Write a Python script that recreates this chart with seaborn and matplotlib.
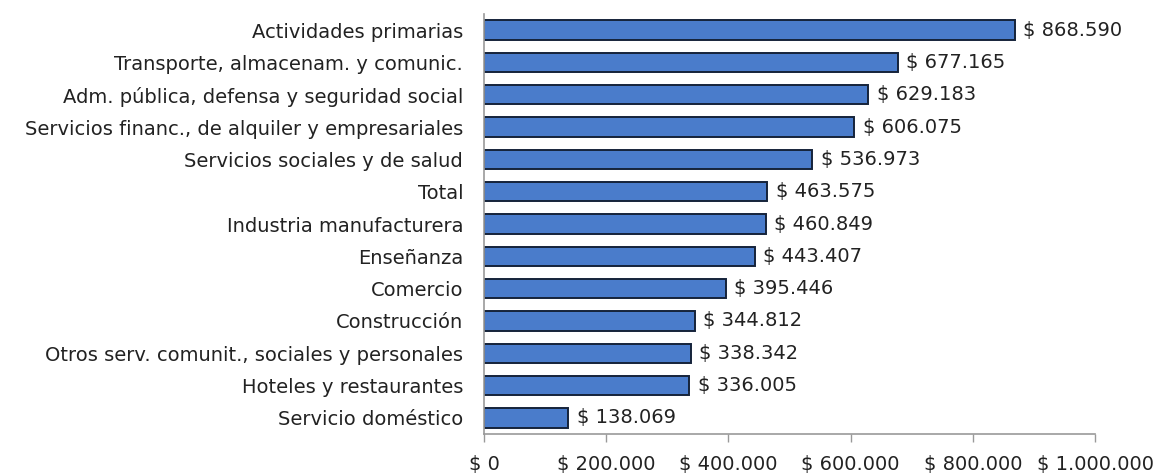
import matplotlib
matplotlib.use("Agg")
import matplotlib.pyplot as plt
import seaborn as sns
import pandas as pd

categories = [
    "Actividades primarias",
    "Transporte, almacenam. y comunic.",
    "Adm. pública, defensa y seguridad social",
    "Servicios financ., de alquiler y empresariales",
    "Servicios sociales y de salud",
    "Total",
    "Industria manufacturera",
    "Enseñanza",
    "Comercio",
    "Construcción",
    "Otros serv. comunit., sociales y personales",
    "Hoteles y restaurantes",
    "Servicio doméstico",
]
values = [868590, 677165, 629183, 606075, 536973, 463575, 460849,
          443407, 395446, 344812, 338342, 336005, 138069]
x_ticks = [0, 200000, 400000, 600000, 800000, 1000000]


def fmt(v):
    return "$ " + f"{v:,.0f}".replace(",", ".")


sns.set_theme(style="white")
plt.rcParams["font.family"] = ["DejaVu Sans"]

df = pd.DataFrame({"cat": categories, "val": values})

fig = plt.figure(figsize=(11.54, 4.76), dpi=100)
ax = fig.add_axes([0.4194, 0.0882, 0.5295, 0.8824])

sns.barplot(data=df, y="cat", x="val", orient="h", color="#4a7ccb",
            edgecolor="#15233a", linewidth=1.4, width=0.6, ax=ax,
            saturation=1)

FS = 14
for i, v in enumerate(values):
    ax.text(v + 14000, i, fmt(v), va="center", ha="left", fontsize=FS,
            color="#222222")

ax.set_xlim(0, 1000000)
ax.set_ylim(12.5, -0.5)
ax.set_xticks(x_ticks)
ax.set_xticklabels([fmt(t) for t in x_ticks], fontsize=FS, color="#222222")
ax.tick_params(axis="x", which="both", direction="out", length=6, width=1,
               color="#999999", pad=9, bottom=True)
ax.tick_params(axis="y", length=0, pad=15, labelsize=FS, labelcolor="#222222")
ax.set_xlabel("")
ax.set_ylabel("")
for s in ["top", "right"]:
    ax.spines[s].set_visible(False)
for s in ["left", "bottom"]:
    ax.spines[s].set_color("#999999")
    ax.spines[s].set_linewidth(1.2)
ax.grid(False)

fig.savefig("out.png", dpi=100, facecolor="white")
